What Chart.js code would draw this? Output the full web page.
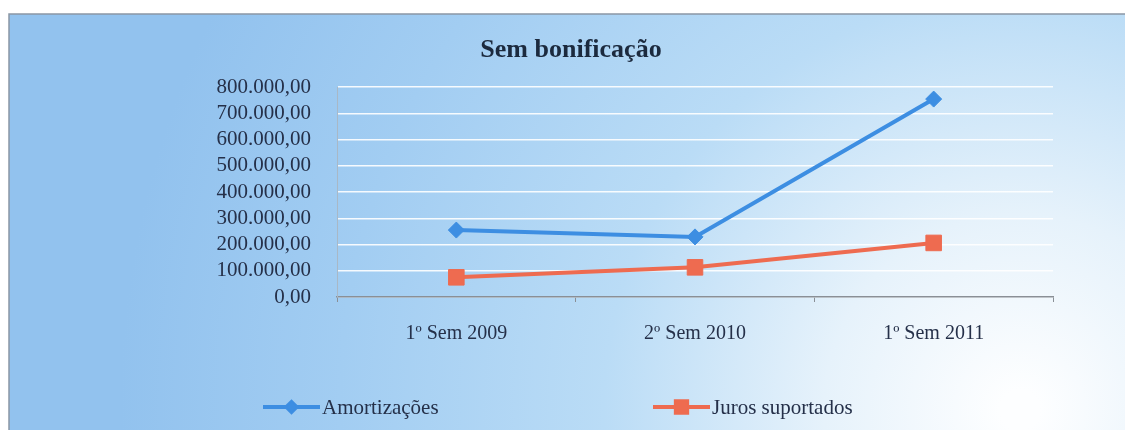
<!DOCTYPE html>
<html>
<head>
<meta charset="utf-8">
<script src="https://cdn.jsdelivr.net/npm/chart.js@4.4.1/dist/chart.umd.min.js"></script>
<style>
  html, body { margin: 0; padding: 0; background: #ffffff; }
  #wrap { width: 1125px; height: 430px; position: relative; }
</style>
</head>
<body>
<div id="wrap"><canvas id="c" width="1125" height="430"></canvas></div>
<script>
const titleText = 'Sem bonificação';
const categories = ['1º Sem 2009', '2º Sem 2010', '1º Sem 2011'];
const amortizacoes = [255000, 229000, 754000];
const juros = [75000, 113000, 206000];
const seriesNames = ['Amortizações', 'Juros suportados'];
const yTicks = [0, 100000, 200000, 300000, 400000, 500000, 600000, 700000, 800000];

function fmt(v) {
  const s = Math.round(v).toString().replace(/\B(?=(\d{3})+(?!\d))/g, '.');
  return s + ',00';
}

const SERIF = '"Liberation Serif", "DejaVu Serif", serif';
const BLUE = '#3d8ee2';
const RED = '#ee6b50';
const TEXT = '#253049';

const bgPlugin = {
  id: 'bg',
  beforeDraw(chart) {
    const ctx = chart.ctx;
    ctx.save();
    ctx.fillStyle = '#ffffff';
    ctx.fillRect(0, 0, chart.width, chart.height);
    const g = ctx.createRadialGradient(1020, 410, 20, 1020, 410, 900);
    g.addColorStop(0, '#fdfeff');
    g.addColorStop(0.2, '#e6f2fb');
    g.addColorStop(0.45, '#badcf6');
    g.addColorStop(0.75, '#a2cdf2');
    g.addColorStop(1, '#92c2ee');
    ctx.fillStyle = g;
    ctx.fillRect(9, 14, 1116, 416);
    ctx.strokeStyle = '#8a97a5';
    ctx.lineWidth = 1.5;
    ctx.beginPath();
    ctx.moveTo(9, 430);
    ctx.lineTo(9, 14);
    ctx.lineTo(1125, 14);
    ctx.stroke();
    ctx.restore();
  },
  afterDraw(chart) {
    const ctx = chart.ctx;
    ctx.save();
    // title
    ctx.font = 'bold 26px ' + SERIF;
    ctx.fillStyle = '#1c2a3e';
    ctx.textAlign = 'center';
    ctx.textBaseline = 'middle';
    ctx.fillText(titleText, 571, 50);
    // legend
    const items = [
      { x0: 263, x1: 320, color: BLUE, style: 'rectRot', r: 5, name: seriesNames[0] },
      { x0: 653, x1: 710, color: RED, style: 'rect', r: 8, name: seriesNames[1] }
    ];
    const ly = 407;
    items.forEach(it => {
      ctx.strokeStyle = it.color;
      ctx.lineWidth = 4;
      ctx.beginPath();
      ctx.moveTo(it.x0, ly);
      ctx.lineTo(it.x1, ly);
      ctx.stroke();
      Chart.helpers.drawPoint(ctx, {
        pointStyle: it.style, radius: it.r, borderWidth: 1
      }, (it.x0 + it.x1) / 2, ly);
      ctx.fillStyle = it.color;
      ctx.fill();
      ctx.font = '21px ' + SERIF;
      ctx.fillStyle = TEXT;
      ctx.textAlign = 'left';
      ctx.fillText(it.name, it.x1 + 2, ly + 1);
    });
    ctx.restore();
  }
};

new Chart(document.getElementById('c'), {
  type: 'line',
  data: {
    labels: categories,
    datasets: [
      {
        label: seriesNames[0],
        data: amortizacoes,
        borderColor: BLUE,
        backgroundColor: BLUE,
        borderWidth: 4,
        pointStyle: 'rectRot',
        pointRadius: 8,
        pointBorderWidth: 1,
        tension: 0
      },
      {
        label: seriesNames[1],
        data: juros,
        borderColor: RED,
        backgroundColor: RED,
        borderWidth: 4,
        pointStyle: 'rect',
        pointRadius: 11,
        pointBorderWidth: 1,
        tension: 0
      }
    ]
  },
  options: {
    responsive: false,
    animation: false,
    devicePixelRatio: 1,
    layout: { padding: { left: 0, right: 72, top: 87, bottom: 73 } },
    plugins: {
      legend: { display: false },
      title: { display: false },
      tooltip: { enabled: false }
    },
    scales: {
      x: {
        offset: true,
        afterFit(scale) { scale.height = 60; },
        grid: {
          display: true,
          offset: true,
          drawOnChartArea: false,
          drawTicks: true,
          tickLength: 5,
          color: '#8a8f96'
        },
        border: { display: true, color: '#8a8f96', width: 1.5 },
        ticks: {
          padding: 20,
          autoSkip: false,
          maxRotation: 0,
          color: TEXT,
          font: { family: SERIF, size: 20 }
        }
      },
      y: {
        min: 0,
        max: 800000,
        afterFit(scale) { scale.width = 337; },
        afterBuildTicks(scale) { scale.ticks = yTicks.map(v => ({ value: v })); },
        grid: {
          color: 'rgba(255,255,255,0.9)',
          lineWidth: 1.5,
          drawTicks: false
        },
        border: { display: true, color: '#a9b8c6', width: 1 },
        ticks: {
          padding: 26,
          autoSkip: false,
          color: TEXT,
          font: { family: SERIF, size: 21, lineHeight: 1 },
          callback: v => fmt(v)
        }
      }
    }
  },
  plugins: [bgPlugin]
});
</script>
</body>
</html>
